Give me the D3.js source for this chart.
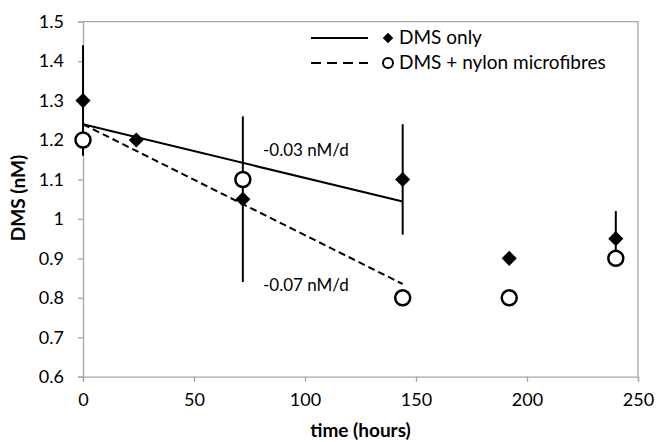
<!DOCTYPE html>
<html>
<head>
<meta charset="utf-8">
<script src="https://d3js.org/d3.v7.min.js"></script>
<style>
body { margin: 0; background: white; }
text { font-family: Lato, "Open Sans", sans-serif; fill: #000; }
</style>
</head>
<body>
<div id="chart"></div>
<script>
// data
var hours = [0, 24, 72, 144, 192, 240];
var dmsOnly = [1.3, 1.2, 1.05, 1.1, 0.9, 0.95];
var dmsOnlyErr = [0.14, 0, 0.21, 0.14, 0, 0.07];
var nylonHours = [0, 72, 144, 192, 240];
var dmsNylon = [1.2, 1.1, 0.8, 0.8, 0.9];
var fitOnly = [[0, 1.24], [144, 1.044]];
var fitNylon = [[0, 1.24], [144, 0.835]];
var xTicks = [0, 50, 100, 150, 200, 250];
var yTicks = [0.6, 0.7, 0.8, 0.9, 1, 1.1, 1.2, 1.3, 1.4, 1.5];

var width = 657, height = 442;
var mLeft = 83, mRight = 638, mTop = 21.7, mBottom = 376.7;

var svg = d3.select("#chart").append("svg")
  .attr("width", width).attr("height", height);

var x = d3.scaleLinear().domain([0, 250]).range([mLeft, mRight]);
var y = d3.scaleLinear().domain([0.6, 1.5]).range([mBottom, mTop]);

// plot border (top and right)
svg.append("path")
  .attr("d", "M" + mLeft + "," + mTop + "H" + mRight + "V" + mBottom)
  .attr("fill", "none").attr("stroke", "#a6a6a6").attr("stroke-width", 1.3);

// y axis
var yAxis = svg.append("g")
  .attr("transform", "translate(" + mLeft + ",0)")
  .call(d3.axisLeft(y).tickValues(yTicks).tickSize(5).tickPadding(14)
    .tickFormat(function(d) { return d === 1 ? "1" : d3.format(".1f")(d); }));
yAxis.selectAll("line, path").attr("stroke", "#a6a6a6").attr("stroke-width", 1.3);
yAxis.selectAll("text").style("font-size", "18px").style("font-family", "Lato, sans-serif");

// x axis
var xAxis = svg.append("g")
  .attr("transform", "translate(0," + mBottom + ")")
  .call(d3.axisBottom(x).tickValues(xTicks).tickSize(5).tickPadding(12));
xAxis.selectAll("line, path").attr("stroke", "#a6a6a6").attr("stroke-width", 1.3);
xAxis.selectAll("text").style("font-size", "18px").style("font-family", "Lato, sans-serif");

// axis titles
svg.append("text")
  .attr("x", (mLeft + mRight) / 2).attr("y", 437)
  .attr("text-anchor", "middle")
  .style("font-size", "19px").style("font-weight", "bold")
  .text("time (hours)");

svg.append("text")
  .attr("transform", "translate(25,198) rotate(-90)")
  .attr("text-anchor", "middle")
  .style("font-size", "19px").style("font-weight", "bold")
  .text("DMS (nM)");

// fitted lines
var line = d3.line().x(function(d) { return x(d[0]); }).y(function(d) { return y(d[1]); });
svg.append("path").attr("d", line(fitOnly))
  .attr("fill", "none").attr("stroke", "#000").attr("stroke-width", 2);
svg.append("path").attr("d", line(fitNylon))
  .attr("fill", "none").attr("stroke", "#000").attr("stroke-width", 2)
  .attr("stroke-dasharray", "7,4");

// error bars
svg.selectAll(".err").data(hours.map(function(h, i) {
    return { h: h, v: dmsOnly[i], e: dmsOnlyErr[i] };
  }).filter(function(d) { return d.e > 0; }))
  .enter().append("line")
  .attr("x1", function(d) { return x(d.h); })
  .attr("x2", function(d) { return x(d.h); })
  .attr("y1", function(d) { return y(d.v - d.e); })
  .attr("y2", function(d) { return y(d.v + d.e); })
  .attr("stroke", "#000").attr("stroke-width", 2);

// open circles
svg.selectAll(".circ").data(nylonHours).enter().append("circle")
  .attr("cx", function(d) { return x(d); })
  .attr("cy", function(d, i) { return y(dmsNylon[i]); })
  .attr("r", 7.5)
  .attr("fill", "white").attr("stroke", "#000").attr("stroke-width", 2.5);

// diamonds
var diamond = d3.symbol().type(d3.symbolDiamond2).size(145);
svg.selectAll(".dia").data(hours).enter().append("path")
  .attr("d", diamond)
  .attr("transform", function(d, i) { return "translate(" + x(d) + "," + y(dmsOnly[i]) + ")"; })
  .attr("fill", "#000");

// slope labels
svg.append("text").attr("x", 263).attr("y", 156)
  .style("font-size", "17px").text("-0.03 nM/d");
svg.append("text").attr("x", 263).attr("y", 291)
  .style("font-size", "17px").text("-0.07 nM/d");

// legend
var legend = svg.append("g");
legend.append("line").attr("x1", 311).attr("x2", 368).attr("y1", 38).attr("y2", 38)
  .attr("stroke", "#000").attr("stroke-width", 2);
legend.append("path").attr("d", d3.symbol().type(d3.symbolDiamond2).size(70))
  .attr("transform", "translate(388,38)").attr("fill", "#000");
legend.append("text").attr("x", 399).attr("y", 44)
  .style("font-size", "19px").text("DMS only");
legend.append("line").attr("x1", 311).attr("x2", 368).attr("y1", 63).attr("y2", 63)
  .attr("stroke", "#000").attr("stroke-width", 2).attr("stroke-dasharray", "10,6");
legend.append("circle").attr("cx", 388).attr("cy", 63).attr("r", 5)
  .attr("fill", "white").attr("stroke", "#000").attr("stroke-width", 2);
legend.append("text").attr("x", 399).attr("y", 69)
  .style("font-size", "19px").text("DMS + nylon microfibres");
</script>
</body>
</html>
